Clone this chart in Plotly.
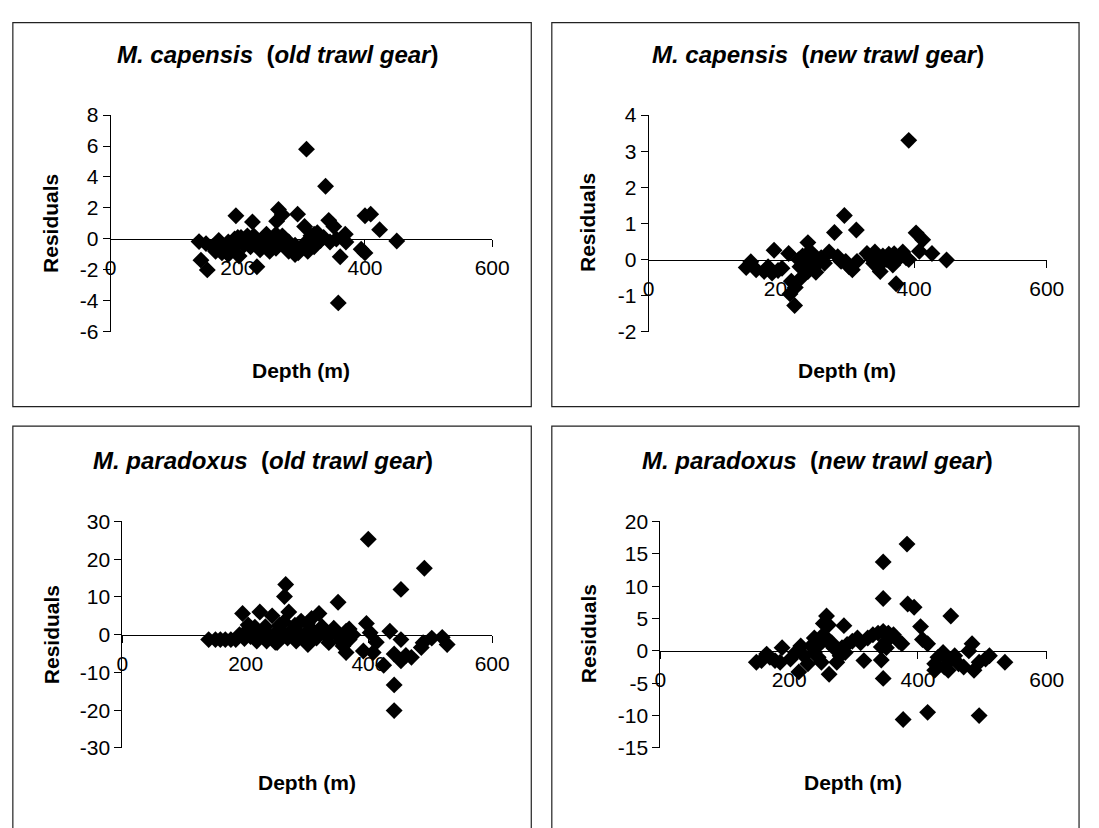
import plotly.graph_objects as go

W, H = 1099, 828

# ---------------- data ----------------
cap_old_depth = [139, 142, 152, 150, 160, 165, 170, 175, 180, 185, 190, 195, 197, 200, 202, 205, 210, 215, 220, 223,
                 225, 230, 230, 235, 240, 245, 250, 255, 260, 261, 264, 265, 270, 270, 275, 280, 285, 290, 294, 295,
                 300, 305, 305, 308, 310, 315, 320, 325, 330, 335, 338, 343, 345, 351, 355, 358, 361, 369, 370, 394,
                 400, 400, 409, 423, 450, 175, 185, 200, 215, 250, 290, 280, 320, 260]
cap_old_resid = [-0.17, -1.37, -2.0, -0.3, -0.5, -0.8, -0.1, -0.4, -0.6, -0.2, -0.7, 0.0, 1.5, -0.3, -1.1, 0.1, -0.4, -0.1, -0.5, 1.1,
                 0.2, -1.8, -0.3, -0.7, 0.0, 0.3, -0.4, -0.1, 0.3, 1.15, 1.9, -0.3, 1.57, 0.2, -0.5, -0.2, -0.7, -0.4, 1.6, -0.9,
                 -0.6, 0.8, -0.3, 5.8, -0.8, 0.2, -0.5, 0.4, -0.1, 0.1, 3.4, 1.2, -0.2, 0.8, 0.0, -4.13, -1.15, 0.3, -0.2, -0.67,
                 -0.9, 1.5, 1.6, 0.6, -0.13, -0.9, -1.0, 0.1, 0.2, -0.8, -1.0, -0.8, 0.3, -0.6]

cap_new_depth = [147, 154, 162, 174, 180, 186, 189, 195, 201, 211, 213, 220, 221, 226, 228, 230, 232, 236, 238, 240,
                 240, 242, 245, 248, 250, 252, 255, 260, 265, 272, 280, 285, 290, 295, 297, 302, 307, 313, 314, 329,
                 335, 339, 341, 345, 349, 353, 358, 362, 368, 370, 373, 378, 383, 388, 392, 392, 403, 408, 413, 427,
                 449, 215, 235]
cap_new_resid = [-0.22, -0.06, -0.28, -0.33, -0.2, -0.37, 0.26, -0.3, -0.24, 0.17, -0.95, -1.27, -0.77, 0.0, -0.2, -0.5, 0.1, 0.1, -0.1, -0.33,
                 0.47, 0.2, 0.2, 0.05, -0.2, -0.35, -0.05, 0.05, -0.1, 0.21, 0.75, 0.08, -0.05, 1.22, -0.05, -0.2, -0.28, 0.82, -0.05, 0.17,
                 0.05, -0.1, 0.21, -0.2, -0.33, 0.1, 0.0, 0.15, -0.15, 0.16, -0.67, 0.05, 0.21, 0.05, 3.3, 0.0, 0.74, 0.23, 0.55, 0.17,
                 -0.01, -0.6, -0.25]

par_old_depth = [140, 151, 159, 167, 176, 184, 190, 195, 198, 201, 204, 208, 212, 218, 223, 226, 230, 232, 234, 240,
                 243, 246, 251, 255, 257, 262, 263, 265, 268, 270, 273, 278, 282, 287, 290, 296, 301, 305, 307, 310,
                 315, 319, 324, 329, 335, 340, 343, 349, 350, 354, 358, 363, 363, 368, 368, 374, 391, 396, 399, 402,
                 407, 412, 424, 434, 441, 441, 441, 452, 452, 452, 460, 469, 485, 488, 490, 502, 519, 527, 215, 248,
                 280, 300]
par_old_resid = [-1.3, -1.3, -1.3, -1.3, -1.3, -1.3, 0.0, 5.6, -1.0, 0.9, 2.6, -0.5, 0.0, -1.7, 6.0, 0.0, 1.0, 2.1, -1.7, -0.5,
                 5.0, 0.0, -2.1, 2.5, 0.9, 3.4, 10.1, 13.3, -0.9, 6.0, 0.9, -0.5, -1.7, 0.4, 3.6, -0.9, -2.6, 1.5, 4.3, 0.9,
                 -0.9, 5.6, 2.1, 0.0, -2.1, 0.5, 1.7, 0.0, 8.6, -1.7, -3.0, 0.9, -4.7, -1.3, 1.5, 0.0, -4.3, 3.0, 25.3, 0.5,
                 -4.7, -2.0, -8.1, 0.9, -5.1, -13.3, -20.1, 12.0, -1.3, -6.9, -5.5, -6.0, -3.4, -2.1, 17.6, -0.9, -0.7, -2.6, 2.0, -2.0,
                 2.5, 3.0]

par_new_depth = [149, 157, 165, 170, 178, 186, 189, 202, 210, 215, 218, 223, 229, 234, 239, 239, 245, 247, 250, 253,
                 253, 255, 258, 261, 261, 262, 266, 269, 274, 277, 279, 282, 285, 287, 290, 298, 306, 311, 316, 322,
                 330, 338, 343, 343, 346, 346, 346, 346, 351, 351, 354, 362, 370, 375, 377, 383, 384, 394, 404, 407,
                 415, 415, 426, 426, 431, 439, 441, 447, 449, 451, 457, 463, 471, 479, 484, 487, 495, 495, 505, 511,
                 535]
par_new_resid = [-1.75, -1.5, -0.5, -1.0, -1.5, -1.75, 0.5, -1.25, -0.25, -3.25, 0.75, -0.75, -2.0, 0.75, -0.25, 2.0, -1.0, 1.0, -1.75, 2.5,
                 4.25, 2.0, 5.4, 4.0, 1.4, -3.6, 1.25, 0.5, -1.75, 0.0, -0.75, 0.5, 3.9, -0.25, 1.0, 1.5, 2.0, 1.25, -1.5, 2.0,
                 2.5, 2.75, -1.4, 0.6, 3.0, 13.75, 8.1, -4.25, 1.5, 0.5, 2.75, 2.5, 1.5, 1.1, -10.6, 16.5, 7.25, 6.75, 3.75, 1.75,
                 1.1, -9.5, -2.0, -3.0, -1.0, -0.25, -2.5, -3.0, -1.5, 5.4, -0.75, -2.0, -2.5, 0.0, 1.1, -3.0, -1.75, -10.0, -1.25, -0.75,
                 -1.75]

titles = ["<i>M. capensis</i>  (<i>old trawl gear</i>)",
          "<i>M. capensis</i>  (<i>new trawl gear</i>)",
          "<i>M. paradoxus</i>  (<i>old trawl gear</i>)",
          "<i>M. paradoxus</i>  (<i>new trawl gear</i>)"]
x_title = "Depth (m)"
y_title = "Residuals"
x_ticks = [0, 200, 400, 600]
y_ranges = [(-6, 8, 2), (-2, 4, 1), (-30, 30, 10), (-15, 20, 5)]

# ---------------- layout geometry (pixels) ----------------
FONT = "Liberation Sans, Arial, sans-serif"
plot_x = [(107, 497), (657, 1064), (119, 497), (669, 1064)]
plot_y = [(106, 329), (106, 329), (524, 757), (524, 757)]
title_pos = [(278, 44), (830, 44), (263, 461), (830, 461)]
xt_pos = [(302, 369), (860, 369), (308, 793), (866, 793)]
yt_pos = [(46, 217), (595, 217), (46, 640), (595, 640)]
boxes = [(7, 11, 537, 406), (558, 11, 1097, 406), (7, 426, 537, 840), (558, 426, 1097, 840)]

datasets = [(cap_old_depth, cap_old_resid), (cap_new_depth, cap_new_resid),
            (par_old_depth, par_old_resid), (par_new_depth, par_new_resid)]

fig = go.Figure()
layout = dict(width=W, height=H, margin=dict(l=0, r=0, t=0, b=0),
              paper_bgcolor="white", plot_bgcolor="white", showlegend=False,
              font=dict(family=FONT, color="black"))
annotations = []
shapes = []

for i, ((dx, dy), (px0, px1), (py0, py1), (ymin, ymax, ystep)) in enumerate(
        zip(datasets, plot_x, plot_y, y_ranges)):
    n = "" if i == 0 else str(i + 1)
    fig.add_trace(go.Scatter(x=dx, y=dy, mode="markers",
                             xaxis="x" + n, yaxis="y" + n,
                             marker=dict(symbol="diamond", size=13, color="black",
                                         line=dict(width=0)),
                             cliponaxis=False))
    ydom = [1 - py1 / H, 1 - py0 / H]
    zero_frac = ydom[0] + (0 - ymin) / (ymax - ymin) * (ydom[1] - ydom[0])
    yvals = list(range(ymin, ymax + 1, ystep))
    layout["xaxis" + n] = dict(domain=[px0 / W, px1 / W], range=[0, 600], anchor="free",
                               position=zero_frac, tickvals=x_ticks,
                               ticktext=[str(v) for v in x_ticks],
                               ticks="outside", ticklen=7, ticklabelstandoff=3,
                               tickcolor="black", showline=True, linecolor="black", linewidth=1,
                               showgrid=False, zeroline=False,
                               tickfont=dict(size=21, family=FONT, color="black"))
    layout["yaxis" + n] = dict(domain=ydom, range=[ymin, ymax], anchor="x" + n,
                               tickvals=yvals, ticktext=[str(v) for v in yvals],
                               ticks="outside", ticklen=7,
                               tickcolor="black", showline=True, linecolor="black", linewidth=1,
                               showgrid=False, zeroline=False,
                               tickfont=dict(size=21, family=FONT, color="black"))
    tx, ty = title_pos[i]
    annotations.append(dict(text="<b>" + titles[i] + "</b>", x=tx / W, y=1 - ty / H,
                            xref="paper", yref="paper", showarrow=False,
                            xanchor="center", yanchor="middle",
                            font=dict(size=24, family=FONT, color="black")))
    xx, xy = xt_pos[i]
    annotations.append(dict(text="<b>" + x_title + "</b>", x=xx / W, y=1 - xy / H,
                            xref="paper", yref="paper", showarrow=False,
                            xanchor="center", yanchor="middle",
                            font=dict(size=21, family=FONT, color="black")))
    yx, yy = yt_pos[i]
    annotations.append(dict(text="<b>" + y_title + "</b>", x=yx / W, y=1 - yy / H,
                            xref="paper", yref="paper", showarrow=False, textangle=-90,
                            xanchor="center", yanchor="middle",
                            font=dict(size=21, family=FONT, color="black")))
    bx0, by0, bx1, by1 = boxes[i]
    shapes.append(dict(type="rect", xref="paper", yref="paper",
                       x0=bx0 / W, x1=bx1 / W, y0=1 - by1 / H, y1=1 - by0 / H,
                       line=dict(color="#222222", width=1.2), fillcolor="rgba(0,0,0,0)", layer="below"))

layout["annotations"] = annotations
layout["shapes"] = shapes
fig.update_layout(**layout)
fig.write_html("out.html",
               post_script="document.body.style.margin='0';document.body.style.overflow='hidden';")
